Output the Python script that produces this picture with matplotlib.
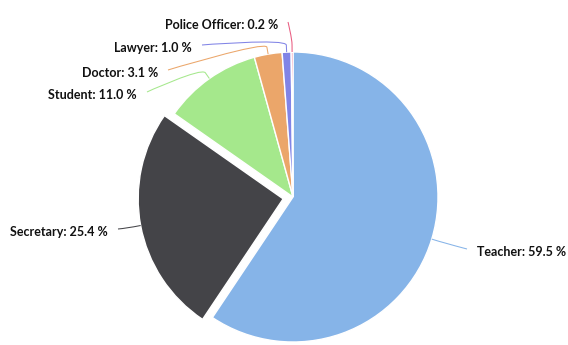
import numpy as np
import matplotlib.pyplot as plt
from matplotlib.path import Path
from matplotlib.patches import PathPatch

jobs = ["Teacher", "Secretary", "Student", "Doctor", "Lawyer", "Police Officer"]
shares = [59.5, 25.4, 11.0, 3.1, 1.0, 0.2]
colors = ["#86b4e8", "#444448", "#a5e88c", "#eba66a", "#8184e6", "#e95b80"]

W, H = 568, 345
cx, cy, r = 293, H - 197, 145
explode = [0, 10, 0, 0, 0, 0]
connector_gap = 7

# where each connector ends next to its label (pixels, from the top left)
label_anchor = [(467, 249), (118, 229), (147, 92), (168, 70), (202, 45), (288, 22)]

plt.rcParams['font.family'] = ['Lato', 'DejaVu Sans']

fig = plt.figure(figsize=(W / 100, H / 100), dpi=100)
ax = fig.add_axes([0, 0, 1, 1])
ax.pie(shares, colors=colors, center=(cx, cy), radius=r, startangle=90,
       counterclock=False, explode=explode,
       wedgeprops=dict(edgecolor="white", linewidth=1))
ax.set_xlim(0, W)
ax.set_ylim(0, H)
ax.axis("off")

total = sum(shares)
cum = np.cumsum([0] + shares[:-1])
for job, share, start, off, col, (lx, ly) in zip(jobs, shares, cum, explode, colors, label_anchor):
    theta = np.deg2rad(360 * (start + share / 2) / total)
    dx, dy = np.sin(theta), np.cos(theta)
    edge = np.array([cx + (r + off) * dx, cy + (r + off) * dy])
    bend = np.array([cx + (r + off + connector_gap) * dx, cy + (r + off + connector_gap) * dy])
    lab = np.array([lx, H - ly])
    verts = [lab, lab, 2 * bend - edge, bend, edge]
    codes = [Path.MOVETO, Path.CURVE4, Path.CURVE4, Path.CURVE4, Path.LINETO]
    ax.add_patch(PathPatch(Path(verts, codes), fill=False, edgecolor=col, lw=0.75))

    text = f"{job}: {share:.1f} %"
    if dx > 0:
        ax.text(lx + 10, H - ly - 3, text, ha="left", va="center",
                fontsize=9, fontweight="bold", color="#111111")
    else:
        ax.text(lx - 10, H - ly - 3, text, ha="right", va="center",
                fontsize=9, fontweight="bold", color="#111111")

fig.savefig("out.png", dpi=100)
